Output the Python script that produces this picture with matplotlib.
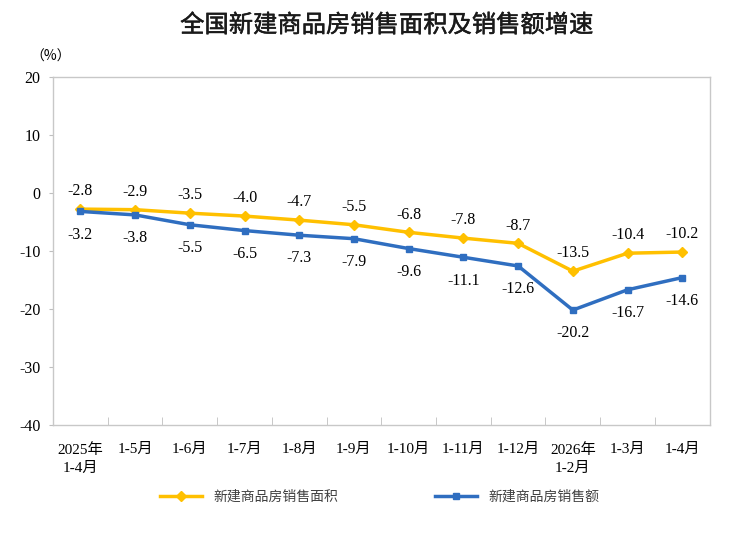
import matplotlib
matplotlib.use("Agg")
import matplotlib.pyplot as plt
import matplotlib.patheffects as pe
import numpy as np

plt.rcParams['font.family'] = ['Liberation Serif', 'Noto Sans CJK SC']
plt.rcParams['axes.unicode_minus'] = False

# data
months = ['2025年\n1-4月', '1-5月', '1-6月', '1-7月', '1-8月', '1-9月',
          '1-10月', '1-11月', '1-12月', '2026年\n1-2月', '1-3月', '1-4月']
area = [-2.8, -2.9, -3.5, -4.0, -4.7, -5.5, -6.8, -7.8, -8.7, -13.5, -10.4, -10.2]
sales = [-3.2, -3.8, -5.5, -6.5, -7.3, -7.9, -9.6, -11.1, -12.6, -20.2, -16.7, -14.6]
area_name = '新建商品房销售面积'
sales_name = '新建商品房销售额'

yellow = '#FFC000'
blue = '#2F6EC0'

fig = plt.figure(figsize=(7.4, 5.37), dpi=100)
ax = fig.add_axes([0.0716, 0.2086, 0.8874, 0.6484])

x = np.arange(len(months))
ax.plot(x, area, color=yellow, lw=2.5, marker='D', ms=5, label=area_name)
ax.plot(x, sales, color=blue, lw=2.5, marker='s', ms=5, label=sales_name)

for i, v in enumerate(area):
    ax.annotate(f'{v:.1f}', (i, v), xytext=(0, 7), textcoords='offset points',
                ha='center', va='bottom', fontsize=11.5)
for i, v in enumerate(sales):
    ax.annotate(f'{v:.1f}', (i, v), xytext=(0, -11), textcoords='offset points',
                ha='center', va='top', fontsize=11.5)

ax.set_xlim(-0.5, len(months) - 0.5)
ax.set_ylim(-40, 20)
ax.set_yticks([-40, -30, -20, -10, 0, 10, 20])
ax.tick_params(axis='y', labelsize=11.5, length=3, color='#bfbfbf', pad=6)
ax.set_xticks(x)
ax.set_xticklabels(months, fontsize=11, va='top', linespacing=1.5)
ax.set_xticks(np.arange(0.5, len(months) - 1, 1), minor=True)
ax.tick_params(axis='x', which='major', length=0, pad=13)
ax.tick_params(axis='x', which='minor', direction='in', length=6, color='#bfbfbf')
for s in ax.spines.values():
    s.set_color('#c8c8c8')
    s.set_linewidth(1)

fig.text(0.068, 0.895, '（%）', fontsize=10, ha='center', va='center',
         family=['Noto Sans CJK SC'])
fig.text(0.522, 0.953, '全国新建商品房销售面积及销售额增速', fontsize=17.5,
         ha='center', va='center', color='#1a1a1a',
         family=['Noto Sans CJK SC'],
         path_effects=[pe.withStroke(linewidth=0.35, foreground='#1a1a1a')])

leg = fig.legend(loc='center', bbox_to_anchor=(0.513, 0.075), ncol=2,
                 frameon=False, columnspacing=7, handlelength=3,
                 prop={'family': ['Noto Sans CJK SC'], 'size': 10})
for t in leg.get_texts():
    t.set_color('#404040')

fig.savefig('out.png', dpi=100)
